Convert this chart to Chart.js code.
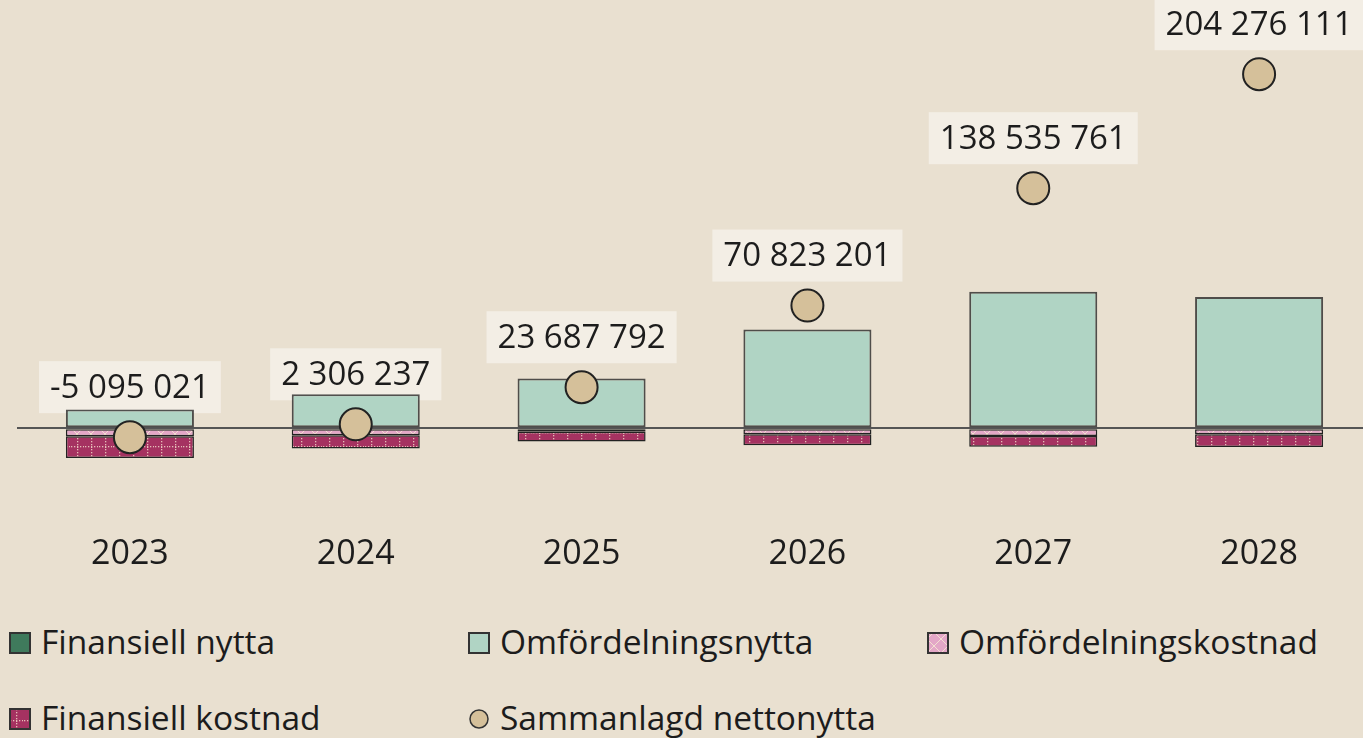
<!doctype html>
<html lang="sv">
  <head>
    <meta charset="UTF-8" />
    <title>Sammanlagd nettonytta 2023–2028</title>
    <script src="https://cdn.jsdelivr.net/npm/chart.js"></script>
    <style>
      body {
        margin: 0;
        width: 1363px;
        height: 738px;
        overflow: hidden;
        background: #e9e0d0;
        font-family: 'Open Sans', sans-serif;
        color: #1c1c1c;
        position: relative;
      }
      .chart-box {
        position: absolute;
        left: 0;
        top: 0;
        width: 1372px;
        height: 610px;
      }
      .legend-item {
        position: absolute;
        height: 40px;
        line-height: 40px;
        font-size: 33.5px;
        white-space: nowrap;
      }
      .legend-item canvas {
        vertical-align: middle;
        margin-right: 10px;
        position: relative;
        top: -2px;
      }
    </style>
  </head>
  <body>
    <div class="chart-box"><canvas id="chart"></canvas></div>
    <div id="legend"></div>

    <script>
      const years = ['2023', '2024', '2025', '2026', '2027', '2028'];
      const finansiellNytta = [0, 0, 0, 0, 0, 0];
      const omfordelningsnytta = [10900000, 19600000, 28800000, 57000000, 78800000, 75800000];
      const omfordelningskostnad = [-4600000, -4000000, -2000000, -3500000, -4400000, -3500000];
      const finansiellKostnad = [-12500000, -7700000, -5600000, -6300000, -6300000, -7300000];
      const nettonytta = [-5095021, 2306237, 23687792, 70823201, 138535761, 204276111];

      const colors = {
        finNytta: '#3f7a5c',
        omfNytta: '#b0d4c4',
        omfKostnad: '#e3a7c7',
        finKostnad: '#a53261',
        netto: '#d5c09a',
      };

      // pink with light diamond lines
      function diamondPattern() {
        const c = document.createElement('canvas');
        c.width = 14;
        c.height = 14;
        const g = c.getContext('2d');
        g.fillStyle = colors.omfKostnad;
        g.fillRect(0, 0, 14, 14);
        g.strokeStyle = 'rgba(245,230,210,0.9)';
        g.lineWidth = 1;
        g.beginPath();
        g.moveTo(0, 7);
        g.lineTo(7, 0);
        g.lineTo(14, 7);
        g.lineTo(7, 14);
        g.closePath();
        g.stroke();
        return g.createPattern(c, 'repeat');
      }

      // dark magenta with dotted grid
      function dotPattern() {
        const c = document.createElement('canvas');
        c.width = 14;
        c.height = 14;
        const g = c.getContext('2d');
        g.fillStyle = colors.finKostnad;
        g.fillRect(0, 0, 14, 14);
        g.fillStyle = 'rgba(240,215,200,0.85)';
        for (let y = 1; y < 14; y += 3) g.fillRect(7, y, 1.3, 1.3);
        for (let x = 1; x < 14; x += 3) g.fillRect(x, 12, 1.3, 1.3);
        return g.createPattern(c, 'repeat');
      }

      const pinkFill = diamondPattern();
      const darkFill = dotPattern();

      function formatSek(v) {
        return String(v).replace(/\B(?=(\d{3})+(?!\d))/g, ' ');
      }

      // boxed value labels above the net points, drawn under the bars
      const valueLabels = {
        id: 'valueLabels',
        beforeDatasetsDraw(chart) {
          const ctx = chart.ctx;
          const meta = chart.getDatasetMeta(4);
          ctx.save();
          ctx.font = "33px 'Open Sans', sans-serif";
          ctx.textAlign = 'center';
          ctx.textBaseline = 'middle';
          meta.data.forEach((pt, i) => {
            const text = formatSek(nettonytta[i]);
            const w = ctx.measureText(text).width + 22;
            const cy = pt.y - 50;
            ctx.fillStyle = '#f3eee5';
            ctx.fillRect(pt.x - w / 2, cy - 26, w, 52);
            ctx.fillStyle = '#1c1c1c';
            ctx.fillText(text, pt.x, cy + 1);
          });
          ctx.restore();
        },
      };

      Chart.defaults.font.family = "'Open Sans', sans-serif";
      Chart.defaults.color = '#1c1c1c';

      const barCommon = {
        type: 'bar',
        stack: 's',
        order: 1,
        barPercentage: 0.567,
        categoryPercentage: 1,
        borderSkipped: false,
      };

      new Chart(document.getElementById('chart'), {
        data: {
          labels: years,
          datasets: [
            {
              ...barCommon,
              label: 'Finansiell nytta',
              data: finansiellNytta,
              backgroundColor: colors.finNytta,
              borderColor: '#222',
              borderWidth: 0,
            },
            {
              ...barCommon,
              label: 'Omfördelningsnytta',
              data: omfordelningsnytta,
              backgroundColor: colors.omfNytta,
              borderColor: 'rgba(40,40,40,0.8)',
              borderWidth: 2,
            },
            {
              ...barCommon,
              label: 'Omfördelningskostnad',
              data: omfordelningskostnad,
              backgroundColor: pinkFill,
              borderColor: '#222',
              borderWidth: 1.5,
            },
            {
              ...barCommon,
              label: 'Finansiell kostnad',
              data: finansiellKostnad,
              backgroundColor: darkFill,
              borderColor: '#222',
              borderWidth: 1.5,
            },
            {
              type: 'line',
              label: 'Sammanlagd nettonytta',
              data: nettonytta,
              order: 0,
              showLine: false,
              pointRadius: 16,
              pointHoverRadius: 16,
              pointBorderWidth: 2,
              pointBackgroundColor: colors.netto,
              pointBorderColor: '#222',
            },
          ],
        },
        options: {
          responsive: true,
          maintainAspectRatio: false,
          animation: false,
          layout: { autoPadding: false, padding: { left: 17, right: 0, top: 0, bottom: 0 } },
          plugins: {
            legend: { display: false },
            tooltip: { enabled: false },
          },
          scales: {
            x: {
              stacked: true,
              grid: { display: false, drawTicks: false },
              border: { display: false },
              ticks: { font: { size: 34 }, padding: 35, color: '#1c1c1c' },
            },
            y: {
              stacked: true,
              min: -40900000,
              max: 247100000,
              border: { display: false },
              ticks: { display: false },
              // only the zero line is drawn
              afterBuildTicks: (axis) => {
                axis.ticks = [{ value: 0 }];
              },
              grid: {
                drawTicks: false,
                color: '#555',
                lineWidth: 2,
              },
            },
          },
        },
        plugins: [valueLabels],
      });

      // legend in a 3-column grid, like the original
      const legendItems = [
        { label: 'Finansiell nytta', kind: 'box', fill: colors.finNytta, x: 9, y: 621 },
        { label: 'Omfördelningsnytta', kind: 'box', fill: colors.omfNytta, x: 468, y: 621 },
        { label: 'Omfördelningskostnad', kind: 'box', fill: pinkFill, x: 927, y: 621 },
        { label: 'Finansiell kostnad', kind: 'box', fill: darkFill, x: 9, y: 697 },
        { label: 'Sammanlagd nettonytta', kind: 'dot', fill: colors.netto, x: 468, y: 697 },
      ];
      const legend = document.getElementById('legend');
      legendItems.forEach((item) => {
        const el = document.createElement('div');
        el.className = 'legend-item';
        el.style.left = item.x + 'px';
        el.style.top = item.y + 'px';
        const m = document.createElement('canvas');
        m.width = 22;
        m.height = 22;
        const g = m.getContext('2d');
        g.fillStyle = item.fill;
        g.strokeStyle = '#333';
        g.lineWidth = 2;
        if (item.kind === 'box') {
          g.fillRect(1, 1, 20, 20);
          g.strokeRect(1, 1, 20, 20);
        } else {
          g.beginPath();
          g.arc(11, 11, 9, 0, Math.PI * 2);
          g.fill();
          g.lineWidth = 1.5;
          g.stroke();
        }
        el.appendChild(m);
        el.appendChild(document.createTextNode(item.label));
        legend.appendChild(el);
      });
    </script>
  </body>
</html>
